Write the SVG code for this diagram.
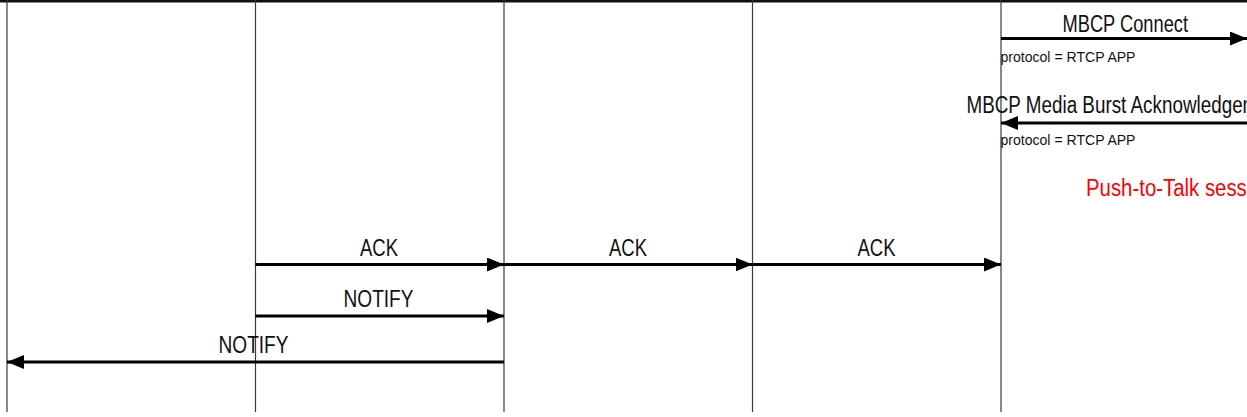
<svg xmlns="http://www.w3.org/2000/svg" width="1247" height="417" viewBox="0 0 1247 417">
<defs>
<marker id="ah" viewBox="0 0 17 14" refX="17" refY="7" markerWidth="17" markerHeight="14" markerUnits="userSpaceOnUse" orient="auto">
<path d="M0,0 L17,7 L0,14 z" fill="#000"/>
</marker>
<style>
.life{stroke:#3a3a3a;stroke-width:1.2;fill:none}
.msg{stroke:#000;stroke-width:3;fill:none;marker-end:url(#ah)}
.lbl{font-family:"Liberation Sans",Arial,sans-serif;font-size:23px;fill:#111}
.small{font-family:"Liberation Sans",Arial,sans-serif;font-size:14px;fill:#111}
.red{font-family:"Liberation Sans",Arial,sans-serif;font-size:23px;fill:#ff0000}
</style>
</defs>
<rect x="0" y="0" width="1247" height="417" fill="#fff"/>
<rect x="0" y="0" width="1247" height="2.5" fill="#111"/>
<g id="lifelines">
<g id="node-1"><line class="life" x1="7" y1="0" x2="7" y2="412"/></g>
<g id="node-2"><line class="life" x1="255.5" y1="0" x2="255.5" y2="412"/></g>
<g id="node-3"><line class="life" x1="504" y1="0" x2="504" y2="412"/></g>
<g id="node-4"><line class="life" x1="752.5" y1="0" x2="752.5" y2="412"/></g>
<g id="node-5"><line class="life" x1="1001" y1="0" x2="1001" y2="412"/></g>
</g>
<g id="connectors">
<line class="msg" x1="1001" y1="38.5" x2="1247" y2="38.5"/>
<line class="msg" x1="1260" y1="123" x2="1001" y2="123"/>
<line class="msg" x1="255.5" y1="264.5" x2="504" y2="264.5"/>
<line class="msg" x1="504" y1="264.5" x2="752.5" y2="264.5"/>
<line class="msg" x1="752.5" y1="264.5" x2="1001" y2="264.5"/>
<line class="msg" x1="255.5" y1="316" x2="504" y2="316"/>
<line class="msg" x1="504" y1="362" x2="7" y2="362"/>
</g>
<g id="labels">
<text class="lbl" x="1062.5" y="31.5" textLength="125.5" lengthAdjust="spacingAndGlyphs">MBCP Connect</text>
<text class="small" x="1000.5" y="61.5" textLength="135" lengthAdjust="spacingAndGlyphs">protocol = RTCP APP</text>
<text class="lbl" x="966.5" y="112.5" textLength="318" lengthAdjust="spacingAndGlyphs">MBCP Media Burst Acknowledgement</text>
<text class="small" x="1000.5" y="144.5" textLength="135" lengthAdjust="spacingAndGlyphs">protocol = RTCP APP</text>
<text class="red" x="1086" y="196" textLength="188" lengthAdjust="spacingAndGlyphs">Push-to-Talk session</text>
<text class="lbl" x="360" y="256" textLength="38" lengthAdjust="spacingAndGlyphs">ACK</text>
<text class="lbl" x="609" y="256" textLength="38" lengthAdjust="spacingAndGlyphs">ACK</text>
<text class="lbl" x="857.5" y="256" textLength="38" lengthAdjust="spacingAndGlyphs">ACK</text>
<text class="lbl" x="343.5" y="306.5" textLength="70" lengthAdjust="spacingAndGlyphs">NOTIFY</text>
<text class="lbl" x="218.5" y="353" textLength="70" lengthAdjust="spacingAndGlyphs">NOTIFY</text>
</g>
</svg>
